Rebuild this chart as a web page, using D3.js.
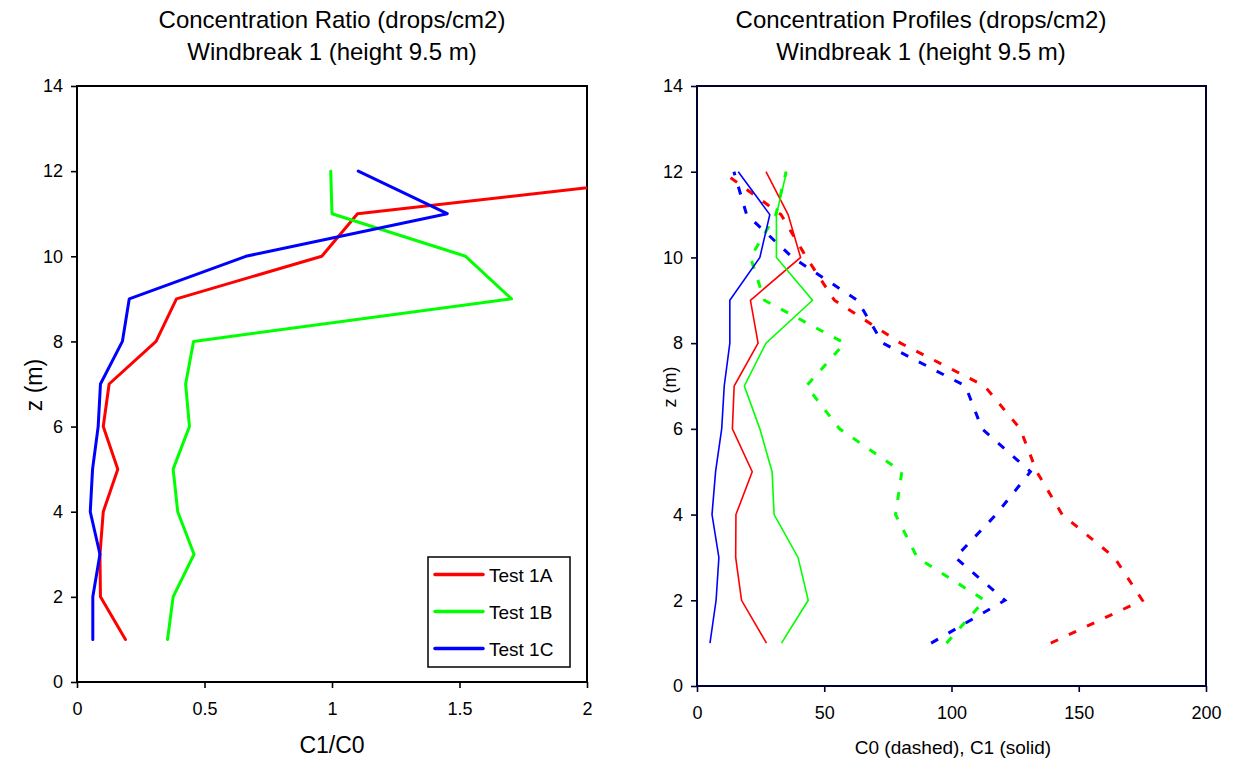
<!DOCTYPE html>
<html><head><meta charset="utf-8">
<script src="https://cdn.jsdelivr.net/npm/d3@7"></script>
<style>body{margin:0;background:#fff}svg{display:block;font-family:"Liberation Sans",Arial,sans-serif}</style>
</head><body>
<svg id="c" width="1236" height="765"></svg>
<script>
// ---- data ----
const zLevels = [12, 11, 10, 9, 8, 7, 6, 5, 4, 3, 2, 1];
const ratio1A = [2.58, 1.10, 0.96, 0.39, 0.31, 0.126, 0.103, 0.16, 0.103, 0.09, 0.092, 0.19];
const ratio1B = [0.995, 1.0, 1.524, 1.704, 0.457, 0.426, 0.441, 0.377, 0.395, 0.459, 0.377, 0.355];
const ratio1C = [1.103, 1.452, 0.662, 0.205, 0.178, 0.092, 0.083, 0.061, 0.052, 0.09, 0.062, 0.062];
const c0_1A = [10, 33, 43, 54, 80, 113, 127, 133.5, 143.5, 164, 175, 139];
const c0_1B = [35, 31, 21, 26.5, 58, 43, 56, 80.5, 78, 86.5, 113, 98];
const c0_1C = [14.5, 19.5, 37.5, 63, 73, 105.5, 112, 131, 117.5, 101.5, 121, 92];
const c1_1A = [27.1, 35.8, 40.7, 21.0, 24.0, 14.6, 13.9, 21.7, 15.3, 15.2, 17.5, 27.3];
const c1_1B = [35.2, 31.2, 31.2, 45.4, 27.1, 18.6, 24.7, 29.5, 30.3, 39.7, 43.7, 33.2];
const c1_1C = [16.2, 28.6, 24.7, 12.9, 12.9, 10.7, 9.7, 7.3, 5.9, 8.6, 7.5, 5.1];
const seriesNames = ["Test 1A", "Test 1B", "Test 1C"];
const seriesColors = ["#ff0000", "#00ff00", "#0000ff"];
const zTicks = [0, 2, 4, 6, 8, 10, 12, 14];
const ratioTicks = [0, 0.5, 1, 1.5, 2];
const concTicks = [0, 50, 100, 150, 200];

const svg = d3.select("#c");
const font = '"Liberation Sans", Arial, sans-serif';

function panel(opt) {
  const x = d3.scaleLinear().domain(opt.xdom).range([opt.l, opt.r]);
  const y = d3.scaleLinear().domain([0, 14]).range([opt.b, opt.t]);
  const g = svg.append("g");
  const clipId = "clip" + opt.id;
  svg.append("clipPath").attr("id", clipId).append("rect")
    .attr("x", opt.l).attr("y", opt.t).attr("width", opt.r - opt.l).attr("height", opt.b - opt.t);
  const ya = g.append("g").attr("transform", `translate(${opt.l},0)`)
    .call(d3.axisLeft(y).tickValues(zTicks).tickSize(6).tickPadding(8).tickFormat(d3.format("d")));
  const xa = g.append("g").attr("transform", `translate(0,${opt.b})`)
    .call(d3.axisBottom(x).tickValues(opt.xticks).tickSize(6).tickPadding(14).tickFormat(d => String(d)));
  [ya, xa].forEach(a => {
    a.select(".domain").remove();
    a.selectAll("line").attr("stroke", opt.frame).attr("stroke-width", 1.6);
    a.selectAll("text").attr("font-size", 18).attr("font-family", font).attr("fill", "#000");
  });
  g.append("rect").attr("x", opt.l).attr("y", opt.t).attr("width", opt.r - opt.l).attr("height", opt.b - opt.t)
    .attr("fill", "none").attr("stroke", opt.frame).attr("stroke-width", 2);
  g.append("text").attr("x", opt.tx).attr("y", 28).attr("text-anchor", "middle")
    .attr("font-size", 24).attr("font-family", font).text(opt.title1);
  g.append("text").attr("x", opt.tx).attr("y", 60).attr("text-anchor", "middle")
    .attr("font-size", 24).attr("font-family", font).text(opt.title2);
  return {x, y, g, clipId};
}

// ---- left panel ----
const L = panel({id: "L", xdom: [0, 2], l: 77, r: 587, t: 86, b: 682, xticks: ratioTicks, frame: "#000",
  tx: 332, title1: "Concentration Ratio (drops/cm2)", title2: "Windbreak 1 (height 9.5 m)"});
L.g.append("text").attr("x", 332).attr("y", 753).attr("text-anchor", "middle")
  .attr("font-size", 23).attr("font-family", font).text("C1/C0");
L.g.append("text").attr("transform", "translate(42,385) rotate(-90)").attr("text-anchor", "middle")
  .attr("font-size", 23).attr("font-family", font).text("z (m)");

const ratios = [ratio1A, ratio1B, ratio1C];
const lineL = d3.line().x(d => L.x(d[0])).y(d => L.y(d[1]));
ratios.forEach((arr, i) => {
  L.g.append("path").datum(arr.map((v, j) => [v, zLevels[j]]))
    .attr("clip-path", `url(#${L.clipId})`)
    .attr("d", lineL).attr("fill", "none").attr("stroke", seriesColors[i])
    .attr("stroke-width", 3).attr("stroke-linejoin", "round").attr("stroke-linecap", "round");
});
const lg = L.g.append("g");
lg.append("rect").attr("x", 428).attr("y", 557).attr("width", 142).attr("height", 110)
  .attr("fill", "#fff").attr("stroke", "#000").attr("stroke-width", 1.5);
seriesNames.forEach((n, i) => {
  const yy = 574.5 + i * 37;
  lg.append("line").attr("x1", 435).attr("x2", 483).attr("y1", yy).attr("y2", yy)
    .attr("stroke", seriesColors[i]).attr("stroke-width", 3.5).attr("stroke-linecap", "round");
  lg.append("text").attr("x", 489).attr("y", yy + 7).attr("font-size", 19).attr("font-family", font).text(n);
});

// ---- right panel ----
const R = panel({id: "R", xdom: [0, 200], l: 697, r: 1206, t: 86, b: 686, xticks: concTicks, frame: "#000033",
  tx: 921, title1: "Concentration Profiles (drops/cm2)", title2: "Windbreak 1 (height 9.5 m)"});
R.g.append("text").attr("x", 953).attr("y", 754).attr("text-anchor", "middle")
  .attr("font-size", 19).attr("font-family", font).text("C0 (dashed), C1 (solid)");
R.g.append("text").attr("transform", "translate(676,387) rotate(-90)").attr("text-anchor", "middle")
  .attr("font-size", 18).attr("font-family", font).text("z (m)");

const lineR = d3.line().x(d => R.x(d[0])).y(d => R.y(d[1]));
[c0_1A, c0_1B, c0_1C].forEach((arr, i) => {
  R.g.append("path").datum(arr.map((v, j) => [v, zLevels[j]]).reverse())
    .attr("clip-path", `url(#${R.clipId})`)
    .attr("d", lineR).attr("fill", "none").attr("stroke", seriesColors[i])
    .attr("stroke-width", 3).attr("stroke-dasharray", "8,12");
});
[c1_1A, c1_1B, c1_1C].forEach((arr, i) => {
  R.g.append("path").datum(arr.map((v, j) => [v, zLevels[j]]))
    .attr("clip-path", `url(#${R.clipId})`)
    .attr("d", lineR).attr("fill", "none").attr("stroke", seriesColors[i])
    .attr("stroke-width", 1.6);
});
</script>
</body></html>
